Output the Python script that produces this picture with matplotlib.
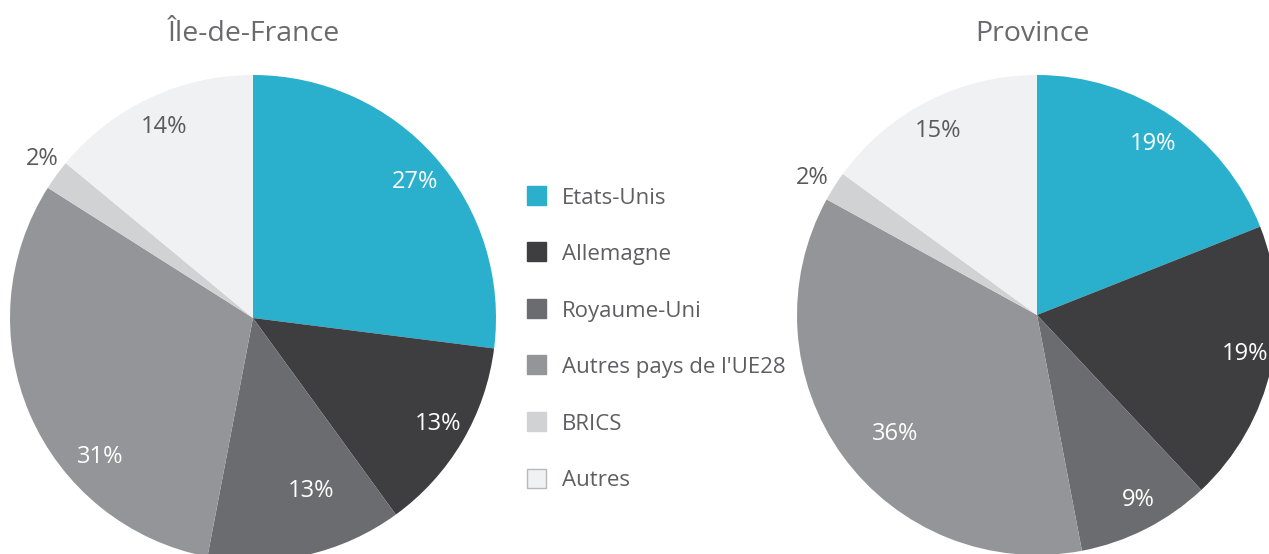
import matplotlib
matplotlib.use("Agg")
import matplotlib.pyplot as plt
from matplotlib.patches import Rectangle

categories = ["Etats-Unis", "Allemagne", "Royaume-Uni", "Autres pays de l'UE28", "BRICS", "Autres"]
idf_values = [27, 13, 13, 31, 2, 14]
province_values = [19, 19, 9, 36, 2, 15]
titles = ["Île-de-France", "Province"]

colors = ["#2AB0CC", "#3E3E40", "#6B6C70", "#949598", "#D1D2D4", "#F0F1F3"]
label_colors = ["white", "white", "white", "white", "#5A5A5C", "#5A5A5C"]

W, H = 1269, 554
FONT = ["Open Sans", "DejaVu Sans"]
TEXT = "#5F5F62"

fig = plt.figure(figsize=(W / 100, H / 100), dpi=100)
ax = fig.add_axes([0, 0, 1, 1])

# pie layout: centre (px, image coords), radius, title position, label positions
layouts = [
    dict(center=(253, 318), radius=243, title=(254, 34),
         labels=[(415, 182), (438, 424), (311, 491), (100, 457), (42, 159), (164, 127)]),
    dict(center=(1037, 315), radius=240, title=(1032, 34),
         labels=[(1153, 144), (1245, 354), (1138, 500), (895, 434), (812, 178), (938, 131)]),
]

for values, title, lay in zip([idf_values, province_values], titles, layouts):
    cx, cy = lay["center"]
    ax.pie(values, colors=colors, startangle=90, counterclock=False,
           center=(cx, H - cy), radius=lay["radius"],
           wedgeprops=dict(linewidth=0))
    tx, ty = lay["title"]
    ax.text(tx, H - ty, title, ha="center", va="center", fontsize=20.5,
            color="#6A6A6D", family=FONT)
    for v, (lx, ly), lc in zip(values, lay["labels"], label_colors):
        ax.text(lx, H - ly, f"{v}%", ha="center", va="center", fontsize=17,
                color=lc, family=FONT)

# legend
for i, (name, c) in enumerate(zip(categories, colors)):
    y = 195 + i * 56.6
    edge = "#B8B9BC" if i == len(categories) - 1 else c
    ax.add_patch(Rectangle((527, H - y - 9.5), 19, 19, facecolor=c,
                           edgecolor=edge, linewidth=1))
    ax.text(562, H - y - 3, name, ha="left", va="center", fontsize=16,
            color=TEXT, family=FONT)

ax.set_xlim(0, W)
ax.set_ylim(0, H)
ax.set_aspect("auto")
ax.axis("off")

fig.savefig("out.png", dpi=100)
